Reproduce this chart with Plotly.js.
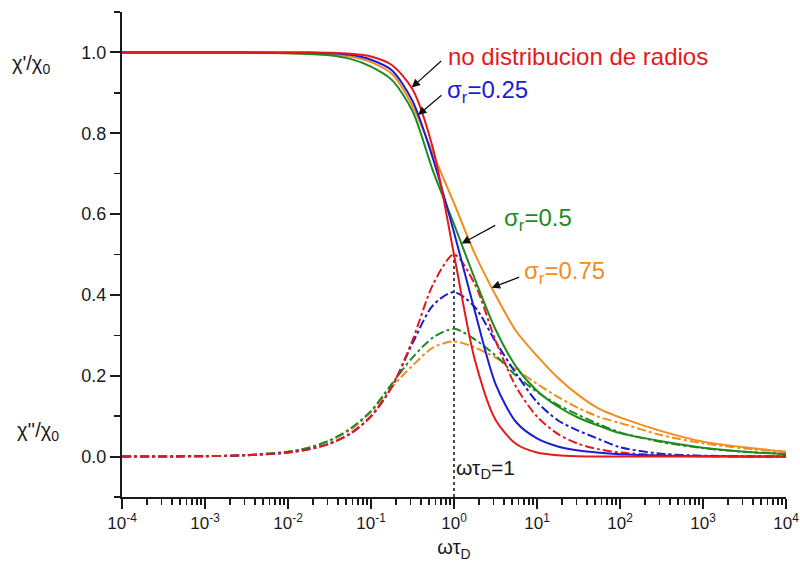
<!DOCTYPE html>
<html>
<head>
<meta charset="utf-8">
<script src="https://cdn.plot.ly/plotly-3.0.1.min.js"></script>
<style>html,body{margin:0;padding:0;background:#fff;}#chart{width:800px;height:583px;}</style>
</head>
<body>
<div id="chart"></div>
<script>
// omega*tau_D sample points (log grid)
const omegaTau = [0.0001, 0.001, 0.00316, 0.01, 0.0178, 0.0316, 0.0562, 0.1, 0.178, 0.316, 0.562, 1, 1.78, 3.16, 5.62, 10, 17.8, 31.6, 56.2, 100, 316, 1000, 3162, 10000];

// chi'/chi0 (solid lines)
const realNoDist = [1.0, 1.0, 1.0, 0.9999, 0.9997, 0.999, 0.9968, 0.990, 0.969, 0.909, 0.760, 0.500, 0.240, 0.091, 0.031, 0.0099, 0.0032, 0.001, 0.0003, 0.0001, 0, 0, 0, 0];
const realS025 = [1.0, 1.0, 1.0, 0.9998, 0.9995, 0.998, 0.994, 0.982, 0.956, 0.880, 0.735, 0.555, 0.360, 0.180, 0.085, 0.045, 0.025, 0.015, 0.0095, 0.006, 0.0025, 0.001, 0.0005, 0.0002];
const realS050 = [1.0, 1.0, 0.9995, 0.998, 0.996, 0.993, 0.984, 0.965, 0.932, 0.855, 0.705, 0.575, 0.440, 0.315, 0.222, 0.163, 0.124, 0.096, 0.076, 0.058, 0.038, 0.022, 0.012, 0.006];
const realS075 = [1.0, 1.0, 0.9995, 0.998, 0.997, 0.995, 0.990, 0.976, 0.947, 0.868, 0.748, 0.627, 0.502, 0.400, 0.310, 0.249, 0.195, 0.152, 0.118, 0.097, 0.063, 0.037, 0.023, 0.012];

// chi''/chi0 (dash-dot lines)
const imagNoDist = [0.0001, 0.001, 0.0032, 0.010, 0.0178, 0.0316, 0.0561, 0.099, 0.172, 0.2875, 0.427, 0.500, 0.427, 0.2875, 0.172, 0.099, 0.0561, 0.0316, 0.0178, 0.010, 0.0032, 0.001, 0.0003, 0.0001];
const imagS025 = [0.0001, 0.001, 0.0032, 0.010, 0.018, 0.032, 0.057, 0.100, 0.172, 0.280, 0.375, 0.407, 0.370, 0.285, 0.205, 0.135, 0.090, 0.064, 0.043, 0.023, 0.007, 0.0022, 0.0007, 0.0002];
const imagS050 = [0.0001, 0.001, 0.0037, 0.012, 0.022, 0.040, 0.069, 0.113, 0.180, 0.245, 0.295, 0.316, 0.290, 0.250, 0.200, 0.160, 0.128, 0.103, 0.080, 0.060, 0.036, 0.021, 0.012, 0.006];
const imagS075 = [0.0001, 0.001, 0.0037, 0.012, 0.022, 0.039, 0.066, 0.110, 0.172, 0.225, 0.270, 0.285, 0.270, 0.245, 0.215, 0.180, 0.148, 0.120, 0.098, 0.083, 0.053, 0.033, 0.020, 0.011];

// vertical marker at omega*tau_D = 1
const markX = [1, 1];
const markY = [-0.1, 0.5];

// tick labels
const xTickVals = [0.0001, 0.001, 0.01, 0.1, 1, 10, 100, 1000, 10000];
const xTickText = ['10<sup>-4</sup>', '10<sup>-3</sup>', '10<sup>-2</sup>', '10<sup>-1</sup>', '10<sup>0</sup>', '10<sup>1</sup>', '10<sup>2</sup>', '10<sup>3</sup>', '10<sup>4</sup>'];
const yTickVals = [0, 0.2, 0.4, 0.6, 0.8, 1.0];
const yTickText = ['0.0', '0.2', '0.4', '0.6', '0.8', '1.0'];

const RED = '#e31a1c', BLUE = '#1c1cd6', GREEN = '#1f8a1f', ORANGE = '#f28c1e';
const FONT = 'Liberation Sans, Arial, sans-serif';

function solid(y, c) {
  return {x: omegaTau, y: y, type: 'scatter', mode: 'lines', line: {color: c, width: 2, shape: 'spline', smoothing: 0.8}, hoverinfo: 'skip'};
}
function dashdot(y, c) {
  return {x: omegaTau, y: y, type: 'scatter', mode: 'lines', line: {color: c, width: 2, dash: 'dashdot', shape: 'spline', smoothing: 0.8}, hoverinfo: 'skip'};
}

const data = [
  {x: markX, y: markY, type: 'scatter', mode: 'lines', line: {color: '#111', width: 1.5, dash: 'dot'}, hoverinfo: 'skip'},
  dashdot(imagS075, ORANGE), dashdot(imagS050, GREEN), dashdot(imagS025, BLUE), dashdot(imagNoDist, RED),
  solid(realS075, ORANGE), solid(realS050, GREEN), solid(realS025, BLUE), solid(realNoDist, RED)
];

function arrow(x, y, ax, ay) {
  return {text: '', xref: 'x', yref: 'y', x: x, y: y, showarrow: true, ax: ax, ay: ay,
    arrowhead: 2, arrowsize: 1.3, arrowwidth: 1.3, arrowcolor: '#111', standoff: 0, startstandoff: 0};
}
function label(text, x, y, color) {
  return {text: text, xref: 'paper', yref: 'y', x: x, y: y, showarrow: false,
    xanchor: 'left', yanchor: 'middle', font: {family: FONT, size: 24, color: color}};
}
function plain(text, xref, x, y, size) {
  return {text: text, xref: xref, yref: 'y', x: x, y: y, xanchor: 'left', yanchor: 'middle', showarrow: false,
    font: {family: FONT, size: size, color: '#1a1a1a'}};
}

const layout = {
  width: 800, height: 583,
  margin: {l: 122, r: 14, t: 12, b: 86},
  paper_bgcolor: '#fff', plot_bgcolor: '#fff',
  showlegend: false,
  font: {family: FONT, color: '#1a1a1a'},
  xaxis: {
    type: 'log', range: [-4, 4],
    tickmode: 'array', tickvals: xTickVals, ticktext: xTickText,
    showline: true, linewidth: 2, linecolor: '#1a1a1a',
    ticks: 'outside', ticklen: 10, tickwidth: 2, tickcolor: '#1a1a1a',
    minor: {ticks: 'outside', ticklen: 6, tickwidth: 1.5, tickcolor: '#1a1a1a', dtick: 'D1', showgrid: false},
    showgrid: false, zeroline: false,
    tickfont: {family: FONT, size: 17, color: '#1a1a1a'},
    title: {text: 'ωτ<sub>D</sub>', font: {family: FONT, size: 20, color: '#1a1a1a'}, standoff: 8}
  },
  yaxis: {
    range: [-0.1, 1.1],
    tickmode: 'array', tickvals: yTickVals, ticktext: yTickText,
    showline: true, linewidth: 2, linecolor: '#1a1a1a',
    ticks: 'outside', ticklen: 10, tickwidth: 2, tickcolor: '#1a1a1a',
    minor: {tickmode: 'linear', tick0: -0.1, dtick: 0.2, ticks: 'outside', ticklen: 6, tickwidth: 1.5, tickcolor: '#1a1a1a', showgrid: false},
    showgrid: false, zeroline: false,
    tickfont: {family: FONT, size: 18, color: '#1a1a1a'}
  },
  annotations: [
    arrow(-0.51, 0.913, 31, -28),
    arrow(-0.434, 0.845, 25, -21),
    arrow(0.093, 0.527, 35, -19),
    arrow(0.454, 0.418, 29, -11),
    label('no distribucion de radios', 0.488, 0.99, RED),
    label('σ<sub>r</sub>=0.25', 0.4865, 0.904, BLUE),
    label('σ<sub>r</sub>=0.5', 0.572, 0.586, GREEN),
    label('σ<sub>r</sub>=0.75', 0.602, 0.456, ORANGE),
    plain("χ'/χ<sub>0</sub>", 'paper', -0.168, 0.97, 20),
    plain("χ''/χ<sub>0</sub>", 'paper', -0.161, 0.062, 20),
    plain('ωτ<sub>D</sub>=1', 'x', 0.005, -0.03, 21)
  ]
};

Plotly.newPlot('chart', data, layout, {staticPlot: true, displayModeBar: false});
</script>
</body>
</html>
